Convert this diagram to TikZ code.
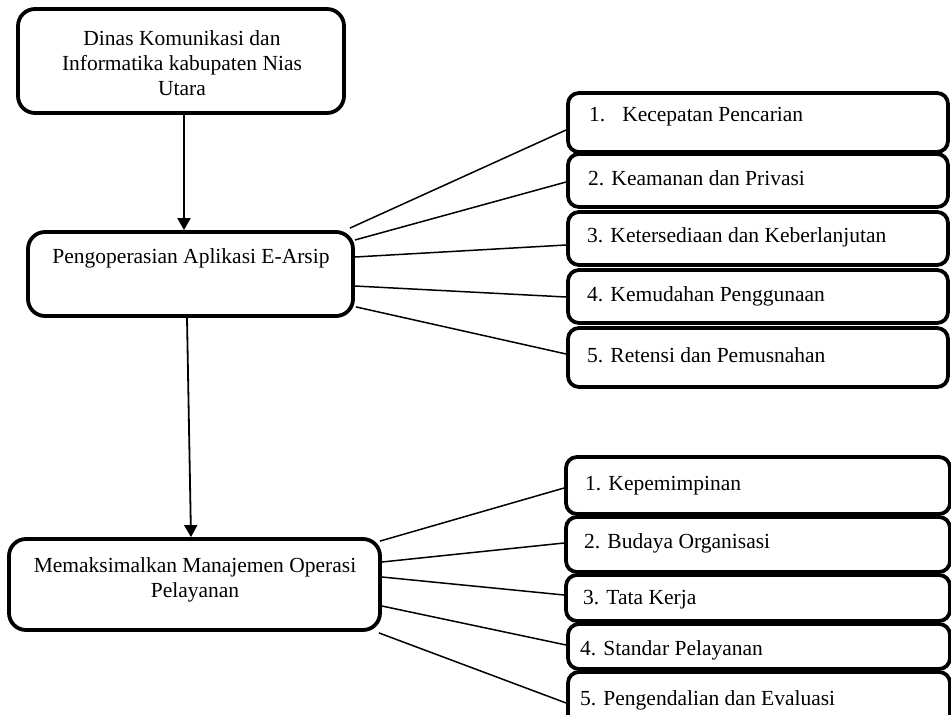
\documentclass[tikz,border=0pt]{standalone}
\usepackage{fontspec}
\setmainfont{Liberation Serif}
\usetikzlibrary{arrows.meta,calc}
\begin{document}
\begin{tikzpicture}[x=1pt,y=-1pt,
  bigbox/.style={draw=black,line width=3.8pt,rounded corners=17pt,fill=white,inner sep=0pt},
  itembox/.style={draw=black,line width=3.8pt,rounded corners=11pt,fill=white,inner sep=0pt,minimum width=380pt},
  txt/.style={font=\fontsize{21.5}{25}\selectfont,text=black,inner sep=0pt,align=center},
  itxt/.style={font=\fontsize{21.5}{25}\selectfont,text=black,inner sep=0pt,anchor=west},
  conn/.style={line width=1.5pt,black},
  arr/.style={line width=1.8pt,black,-{Triangle[width=13pt,length=12pt]}}
]
\useasboundingbox (0,0) rectangle (951,715);
\fill[white] (0,0) rectangle (951,715);

% left boxes
\node[bigbox,minimum width=326pt,minimum height=104pt] (top) at (181,61) {};
\node[txt] (toptxt) at (182,63) {Dinas Komunikasi dan\\Informatika kabupaten Nias\\Utara};

\node[bigbox,minimum width=325pt,minimum height=84pt] (mid) at (190.5,274) {};
\node[txt] (midtxt) at (191,258) {Pengoperasian Aplikasi E-Arsip};

\node[bigbox,minimum width=371pt,minimum height=91pt] (bot) at (194.5,584.5) {};
\node[txt] (bottxt) at (195,580) {Memaksimalkan Manajemen Operasi\\Pelayanan};

% right boxes, upper group
\node[itembox,minimum height=59pt] (a1) at (758,122.5) {};
\node[itembox,minimum height=53pt] (a2) at (758,180.5) {};
\node[itembox,minimum height=53pt] (a3) at (758,238.5) {};
\node[itembox,minimum height=53pt] (a4) at (758,296.5) {};
\node[itembox,minimum height=59pt] (a5) at (758,357.5) {};
\node[itxt] (a1t) at (589,117) {1.\hspace{17pt}Kecepatan Pencarian};
\node[itxt] (a2t) at (588,178) {2. Keamanan dan Privasi};
\node[itxt] (a3t) at (587,237) {3. Ketersediaan dan Keberlanjutan};
\node[itxt] (a4t) at (587,296) {4. Kemudahan Penggunaan};
\node[itxt] (a5t) at (587,355) {5. Retensi dan Pemusnahan};

% right boxes, lower group
\node[itembox,minimum width=384pt,minimum height=57pt] (b1) at (758,485.5) {};
\node[itembox,minimum width=384pt,minimum height=55pt] (b2) at (758,544.5) {};
\node[itembox,minimum width=384pt,minimum height=46pt] (b3) at (758,598) {};
\node[itembox,minimum width=382pt,minimum height=45pt] (b4) at (759,646.5) {};
\node[itembox,minimum width=382pt,minimum height=60pt] (b5) at (759,702) {};
\node[itxt] (b1t) at (585,486) {1. Kepemimpinan};
\node[itxt] (b2t) at (584,543) {2. Budaya Organisasi};
\node[itxt] (b3t) at (583,600) {3. Tata Kerja};
\node[itxt] (b4t) at (580,650) {4. Standar Pelayanan};
\node[itxt] (b5t) at (580,700) {5. Pengendalian dan Evaluasi};

% arrows
\draw[arr] ($(top.south)+(3,0)$) -- ($(mid.north)+(-6.5,0)$);
\draw[arr] ($(mid.south)+(-3.5,0)$) -- ($(bot.north)+(-3.5,0)$);

% connectors upper group
\draw[conn] ($(mid.north east)+(-5,-2)$) -- ($(a1.west)+(0,7.5)$);
\draw[conn] ($(mid.east)+(0,-34)$) -- ($(a2.west)+(0,1.5)$);
\draw[conn] ($(mid.east)+(0,-17)$) -- ($(a3.west)+(0,6.5)$);
\draw[conn] ($(mid.east)+(0,12)$) -- ($(a4.west)+(0,0.5)$);
\draw[conn] ($(mid.south east)+(1,-11)$) -- ($(a5.west)+(0,-3.5)$);

% connectors lower group
\draw[conn] ($(bot.north east)+(-2,4)$) -- ($(b1.west)+(0,2.5)$);
\draw[conn] ($(bot.east)+(0,-22.5)$) -- ($(b2.west)+(0,-1.5)$);
\draw[conn] ($(bot.east)+(0,-7.5)$) -- ($(b3.west)+(0,-3)$);
\draw[conn] ($(bot.east)+(0,21.5)$) -- ($(b4.west)+(0,-1.5)$);
\draw[conn] ($(bot.south east)+(-3,1)$) -- ($(b5.west)+(0,1)$);
\end{tikzpicture}
\end{document}
